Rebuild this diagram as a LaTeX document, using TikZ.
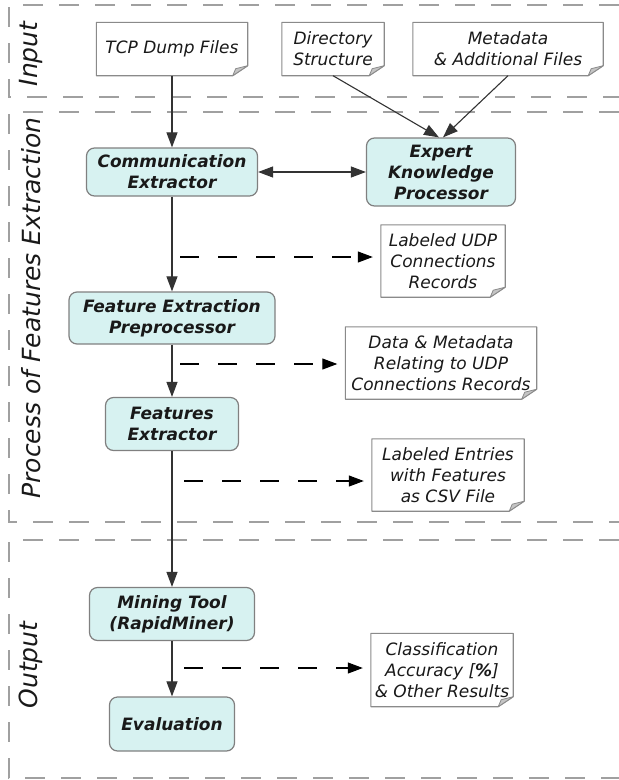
\documentclass[tikz,border=0pt]{standalone}
\usepackage{fontspec}
\setmainfont{DejaVu Sans}
\usetikzlibrary{arrows.meta}

\definecolor{procfill}{HTML}{D7F2F1}
\definecolor{procline}{HTML}{808080}
\definecolor{laneline}{HTML}{A0A0A0}
\definecolor{docline}{HTML}{8A8A8A}
\definecolor{foldfill}{HTML}{C4C4C4}
\definecolor{flowline}{HTML}{333333}

\tikzset{
  lane/.style={draw=laneline, line width=1.2pt, dash pattern=on 20pt off 16pt},
  lanelabel/.style={rotate=90, inner sep=0pt, font=\fontsize{25}{30}\selectfont\itshape, text=black!90},
  proc/.style={draw=procline, fill=procfill, rounded corners=8pt, line width=1.2pt,
    align=center, inner sep=3pt, minimum height=52pt, text=black!90,
    font=\fontsize{17}{21}\selectfont\bfseries\itshape},
  doc/.style={fill=white, align=center, inner sep=3pt, text=black!90,
    font=\fontsize{17}{21}\selectfont\itshape},
  flow/.style={draw=flowline, line width=1.1pt, -{Triangle[length=15pt,width=11pt]}},
  twoway/.style={draw=flowline, line width=1.1pt, {Triangle[length=15pt,width=11pt]}-{Triangle[length=15pt,width=11pt]}},
  feed/.style={draw=black, line width=1.1pt, dash pattern=on 19pt off 19pt,
    -{Triangle[length=15pt,width=11pt]}, shorten >=8pt},
}

% outline of a document node with a folded lower right corner
\newcommand\docoutline[1]{%
  \draw[docline, line width=1.1pt, line join=round]
    (#1.north west) -- (#1.north east) -- ([yshift=10pt]#1.south east)
    -- ([xshift=-15pt]#1.south east) -- (#1.south west) -- cycle;
  \filldraw[draw=docline, fill=foldfill, line width=0.8pt, line join=round]
    ([yshift=10pt]#1.south east) -- ([xshift=-15pt]#1.south east)
    -- ([xshift=-12pt,yshift=7pt]#1.south east) -- cycle;
}

\begin{document}
\begin{tikzpicture}[x=1pt, y=-1pt]
\useasboundingbox (0,0) rectangle (619,780);

% swimlanes
\draw[lane] (619,5) -- (9,5) -- (9,97) -- (619,97);
\draw[lane] (619,112) -- (9,112) -- (9,522) -- (619,522);
\draw[lane] (619,540) -- (9,540) -- (9,778) -- (619,778);

\node[lanelabel] (lin) at (31,54) {Input};
\node[lanelabel] (lproc) at (31,308) {Process of Features Extraction};
\node[lanelabel] (lout) at (31,665) {Output};

% input documents
\node[doc, minimum width=151pt, minimum height=53pt] (tcp) at (172,49) {TCP Dump Files};
\node[doc, minimum width=102pt, minimum height=53pt] (dir) at (333,49) {Directory\\Structure};
\node[doc, minimum width=190pt, minimum height=53pt] (meta) at (508,49) {Metadata\\\& Additional Files};
\docoutline{tcp}
\docoutline{dir}
\docoutline{meta}

% processing steps
\node[proc, minimum width=171pt, minimum height=48pt] (comm) at (172,172) {Communication\\Extractor};
\node[proc, minimum width=149pt, minimum height=68pt] (expert) at (441,172) {Expert\\Knowledge\\Processor};
\node[proc, minimum width=206pt] (prep) at (172,318) {Feature Extraction\\Preprocessor};
\node[proc, minimum width=133pt, minimum height=53pt] (fext) at (172,424) {Features\\Extractor};
\node[proc, minimum width=165pt, minimum height=53pt] (mining) at (172,614) {Mining Tool\\(RapidMiner)};
\node[proc, minimum width=125pt, minimum height=54pt] (eval) at (172,724) {Evaluation};

% intermediate and output documents
\node[doc, minimum width=124pt, minimum height=72pt] (udp) at (443,261) {Labeled UDP\\Connections\\Records};
\node[doc, minimum width=191pt, minimum height=72pt] (data) at (441,363) {Data \& Metadata\\Relating to UDP\\Connections Records};
\node[doc, minimum width=152pt, minimum height=72pt] (csv) at (448,475) {Labeled Entries\\with Features\\as CSV File};
\node[doc, minimum width=142pt, minimum height=73pt] (res) at (442,670) {Classification\\Accuracy [\textbf{\%}]\\\& Other Results};
\docoutline{udp}
\docoutline{data}
\docoutline{csv}
\docoutline{res}

% main flow
\draw[flow] (tcp) -- (comm);
\draw[flow] (dir.south) -- ([xshift=-2pt]expert.north);
\draw[flow] (meta.south) -- ([xshift=2pt]expert.north);
\draw[twoway] (comm) -- (expert);
\draw[flow] (comm) -- (prep);
\draw[flow] (prep) -- (fext);
\draw[flow] (fext) -- (mining);
\draw[flow] (mining) -- (eval);

% produced data
\coordinate (s1) at (180,257);
\coordinate (s2) at (180,364);
\coordinate (s3) at (184,481);
\coordinate (s4) at (184,668);
\draw[feed] (s1) -- (s1 -| udp.west);
\draw[feed] (s2) -- (s2 -| data.west);
\draw[feed] (s3) -- (s3 -| csv.west);
\draw[feed] (s4) -- (s4 -| res.west);
\end{tikzpicture}
\end{document}
